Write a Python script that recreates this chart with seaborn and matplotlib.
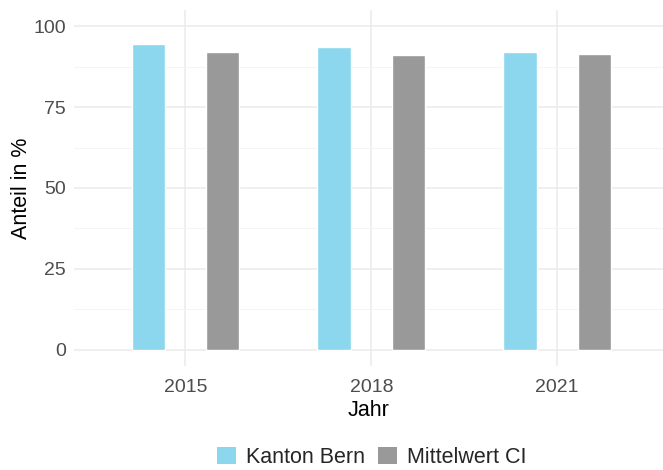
import matplotlib
matplotlib.use('Agg')
import matplotlib.pyplot as plt
import pandas as pd
import seaborn as sns
from matplotlib.patches import Patch

years = ['2015', '2018', '2021']
kanton_bern = [94.5, 93.6, 92.1]
mittelwert_ci = [91.9, 91.0, 91.4]
series = ['Kanton Bern', 'Mittelwert CI']
colors = ['#8CD7EE', '#999999']

df = pd.DataFrame({
    'Jahr': years * 2,
    'Anteil': kanton_bern + mittelwert_ci,
    'Gruppe': [series[0]] * 3 + [series[1]] * 3,
})

sns.set_style('white')
plt.rcParams['font.family'] = ['Liberation Sans', 'DejaVu Sans']

fig = plt.figure(figsize=(6.63, 4.70), dpi=100)
ax = fig.add_axes([74 / 663, 104 / 470, 589 / 663, 356 / 470])

sns.barplot(data=df, x='Jahr', y='Anteil', hue='Gruppe', order=years,
            hue_order=series, palette=colors, width=0.8, gap=0.55,
            saturation=1, ax=ax, legend=False, zorder=3)

ax.set_xlim(-0.6, 2.57)
ax.set_ylim(-5, 105)
ax.set_yticks([0, 25, 50, 75, 100])
ax.set_yticks([12.5, 37.5, 62.5, 87.5], minor=True)
ax.grid(True, which='major', color='#EBEBEB', linewidth=1.1, zorder=0)
ax.grid(True, which='minor', axis='y', color='#F3F3F3', linewidth=0.6, zorder=0)
ax.set_axisbelow(True)
for s in ax.spines.values():
    s.set_visible(False)
ax.tick_params(axis='y', which='both', length=0, labelsize=14, colors='#4D4D4D', pad=6)
ax.tick_params(axis='x', which='both', length=0, labelsize=14, colors='#4D4D4D', pad=9)
ax.set_xlabel('Jahr', fontsize=15.5, color='black', labelpad=3)
ax.set_ylabel('Anteil in %', fontsize=15.5, color='black', labelpad=1)

handles = [Patch(facecolor=c, edgecolor='none', label=l) for c, l in zip(colors, series)]
fig.legend(handles=handles, loc='lower center', bbox_to_anchor=(372 / 663, -0.036), ncol=2,
           frameon=False, fontsize=15.5, handlelength=0.85, handleheight=0.85,
           handletextpad=0.5, columnspacing=0.6)

fig.savefig('out.png', dpi=100)
